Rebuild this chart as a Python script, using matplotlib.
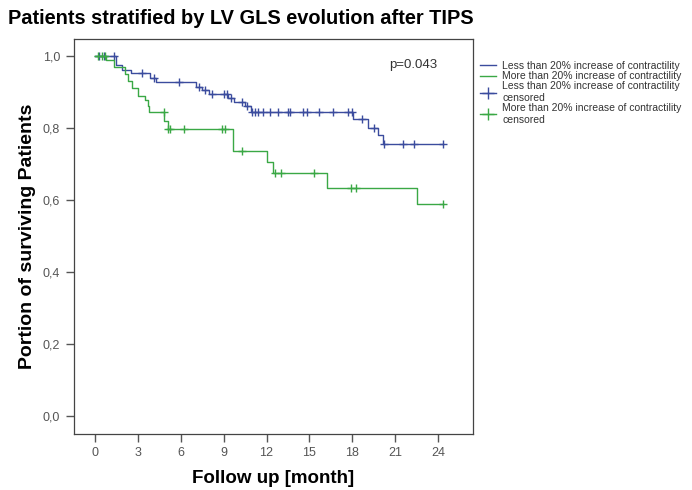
import numpy as np
import matplotlib
matplotlib.use("Agg")
import matplotlib.pyplot as plt
from matplotlib.lines import Line2D

plt.rcParams['font.family'] = ['Liberation Sans', 'DejaVu Sans']

# Kaplan-Meier steps (months, survival after event)
blue_times = [0, 1.5, 1.9, 2.5, 3.85, 4.3, 7.1, 7.5, 8.0, 9.3, 9.7, 10.5, 10.9, 18.05, 19.1, 19.8, 20.15]
blue_surv = [1.0, 0.975, 0.962, 0.952, 0.94, 0.928, 0.915, 0.905, 0.895, 0.884, 0.872, 0.86, 0.844, 0.825, 0.80, 0.78, 0.756]
blue_censor = [0.3, 0.6, 1.3, 3.3, 4.1, 5.9, 7.3, 7.7, 8.2, 9.0, 9.2, 9.5, 10.3, 10.6, 11.0, 11.2,
               11.4, 11.75, 12.25, 12.8, 13.5, 13.65, 14.55, 14.8, 15.7, 16.65, 17.7, 18.0, 18.7,
               19.5, 20.2, 21.55, 22.3, 24.35]

green_times = [0, 0.8, 1.3, 2.1, 2.3, 2.6, 3.0, 3.5, 3.7, 3.8, 4.85, 5.1, 9.65, 12.0, 12.45, 16.2, 22.5]
green_surv = [1.0, 0.99, 0.97, 0.95, 0.93, 0.91, 0.89, 0.878, 0.86, 0.844, 0.82, 0.797, 0.736, 0.705, 0.675, 0.633, 0.589]
green_censor = [0.2, 0.5, 0.7, 4.8, 5.1, 5.25, 6.2, 8.9, 9.1, 10.3, 12.6, 13.0, 15.3, 17.9, 18.25, 24.35]

x_ticks = [0, 3, 6, 9, 12, 15, 18, 21, 24]
y_ticks = [0.0, 0.2, 0.4, 0.6, 0.8, 1.0]
y_labels = ["0,0", "0,2", "0,4", "0,6", "0,8", "1,0"]

blue = "#3b4c9e"
green = "#3aa845"


def level_at(times, surv, t):
    # survival value of the step curve at time t
    idx = np.searchsorted(times, t, side="right") - 1
    return surv[idx]


fig = plt.figure(figsize=(6.92, 4.9), dpi=100)
ax = fig.add_axes([0.107, 0.1143, 0.5765, 0.806])

for times, surv, cens, col in [(blue_times, blue_surv, blue_censor, blue),
                               (green_times, green_surv, green_censor, green)]:
    end = max(cens[-1], times[-1])
    ax.step(times + [end], surv + [surv[-1]], where="post", color=col, lw=1.0)
    cy = [level_at(times, surv, t) for t in cens]
    ax.plot(cens, cy, "+", color=col, ms=6, mew=1.0, ls="none")

ax.set_xlim(-1.47, 26.45)
ax.set_ylim(-0.05, 1.047)
ax.set_xticks(x_ticks)
ax.set_yticks(y_ticks)
ax.set_yticklabels(y_labels)
ax.tick_params(direction="out", length=6, width=1, colors="#555555", labelsize=9,
               labelcolor="#555555")
ax.tick_params(axis="y", pad=4)
for s in ax.spines.values():
    s.set_color("#444444")
    s.set_linewidth(0.9)

ax.text(22.3, 0.975, "p=0.043", ha="center", va="center", fontsize=9.5, color="#333333")

ax.set_xlabel("Follow up [month]", fontsize=13.5, fontweight="bold", labelpad=8)
ax.set_ylabel("Portion of surviving Patients", fontsize=14, fontweight="bold", labelpad=5)
fig.text(0.012, 0.963, "Patients stratified by LV GLS evolution after TIPS",
         fontsize=14.4, fontweight="bold", ha="left", va="center")

handles = [
    Line2D([], [], color=blue, lw=1),
    Line2D([], [], color=green, lw=1),
    Line2D([], [], color=blue, lw=1, marker="+", ms=8),
    Line2D([], [], color=green, lw=1, marker="+", ms=8),
]
labels = [
    "Less than 20% increase of contractility",
    "More than 20% increase of contractility",
    "Less than 20% increase of contractility\ncensored",
    "More than 20% increase of contractility\ncensored",
]
leg = ax.legend(handles, labels, loc="upper left", bbox_to_anchor=(1.008, 0.955),
                frameon=False, fontsize=7.5, handlelength=1.5, handletextpad=0.6,
                labelspacing=0.02, borderaxespad=0)
for t in leg.get_texts():
    t.set_color("#333333")

fig.savefig("out.png", dpi=100)
